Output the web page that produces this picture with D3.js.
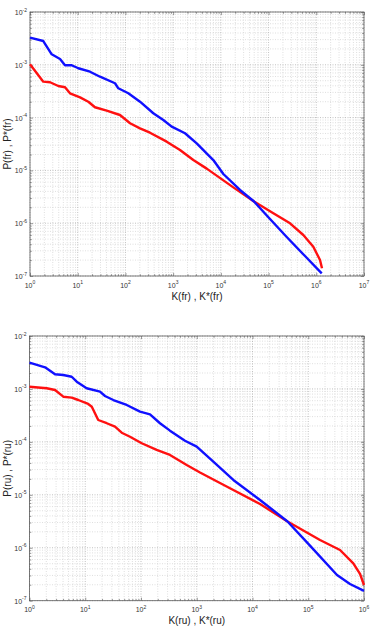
<!DOCTYPE html>
<html><head><meta charset="utf-8">
<script src="https://cdn.jsdelivr.net/npm/d3@7"></script>
<style>
html,body{margin:0;padding:0;background:#fff;}
svg{display:block;font-family:"Liberation Sans",Arial,sans-serif;}
</style></head>
<body>
<svg id="chart" width="373" height="631"></svg>
<script>
// ---- Data ----
// Top panel: French (fr)
const topBlueK = [1, 1.9, 2.85, 4.26, 5.42, 7.48, 10.3, 18.1, 29.3, 60.5, 71, 115, 202, 384, 622, 933, 1774, 3119, 6950, 11270, 25180, 49550, 107200, 239900, 580000, 1.30e6];
const topBlueP = [3.26e-3, 2.82e-3, 1.58e-3, 1.29e-3, 9.8e-4, 9.8e-4, 8.6e-4, 7.4e-4, 5.95e-4, 4.47e-4, 3.59e-4, 2.89e-4, 2.0e-4, 1.21e-4, 9.0e-5, 6.73e-5, 5.05e-5, 3.26e-5, 1.57e-5, 8.55e-6, 4.26e-6, 2.58e-6, 1.20e-6, 5.48e-7, 2.39e-7, 1.12e-7];
const topRedK = [1, 1.9, 2.63, 3.92, 5.42, 6.89, 11.2, 16.7, 23, 40.5, 76.9, 125, 202, 327, 733, 1393, 2648, 5058, 18240, 49550, 125900, 281800, 535000, 866000, 1.197e6, 1.318e6];
const topRedP = [1.02e-3, 4.79e-4, 4.67e-4, 3.97e-4, 3.75e-4, 2.88e-4, 2.42e-4, 2.0e-4, 1.57e-4, 1.35e-4, 1.12e-4, 7.8e-5, 6.27e-5, 5.18e-5, 3.5e-5, 2.43e-5, 1.57e-5, 1.08e-5, 4.77e-6, 2.58e-6, 1.54e-6, 9.95e-7, 5.98e-7, 3.59e-7, 2.01e-7, 1.40e-7];
// Bottom panel: Russian (ru)
const botBlueK = [1, 1.9, 2.87, 4.04, 5.71, 7.03, 10.6, 18.4, 22.6, 31.9, 55.4, 96, 145, 219, 331, 615, 998, 1982, 4530, 13640, 42460, 107400, 328000, 561000, 1e6];
const botBlueP = [3.13e-3, 2.56e-3, 1.89e-3, 1.83e-3, 1.70e-3, 1.37e-3, 1.03e-3, 8.87e-4, 7.36e-4, 6.18e-4, 4.98e-4, 3.72e-4, 3.32e-4, 2.25e-4, 1.63e-4, 1.05e-4, 8.12e-5, 4.23e-5, 1.91e-5, 8.0e-6, 3.14e-6, 1.10e-6, 3.06e-7, 2.07e-7, 1.53e-7];
const botRedK = [1, 2.04, 2.87, 4.04, 5.71, 7.5, 11.3, 13.1, 17.1, 24.3, 34.2, 45.1, 63.5, 103, 191, 331, 660, 1143, 3945, 13640, 42460, 162500, 371500, 643000, 848000, 1e6];
const botRedP = [1.10e-3, 1.03e-3, 9.55e-4, 7.14e-4, 6.84e-4, 6.18e-4, 5.2e-4, 4.62e-4, 2.59e-4, 2.25e-4, 1.94e-4, 1.49e-4, 1.25e-4, 9.41e-5, 7.04e-5, 5.66e-5, 3.66e-5, 2.64e-5, 1.33e-5, 6.71e-6, 3.14e-6, 1.40e-6, 9.08e-7, 5.09e-7, 3.2e-7, 1.98e-7];

// Tick labels (exponents of 10)
const topXExps = [0, 1, 2, 3, 4, 5, 6, 7];
const botXExps = [0, 1, 2, 3, 4, 5, 6];
const yExps = [-7, -6, -5, -4, -3, -2];

const labels = {
  topX: "K(fr) , K*(fr)", topY: "P(fr) , P*(fr)",
  botX: "K(ru) , K*(ru)", botY: "P(ru) , P*(ru)"
};

const svg = d3.select("#chart");

function minorValues(lo, hi) {
  const out = [];
  for (let e = lo; e < hi; e++) for (let m = 2; m <= 9; m++) out.push(m * Math.pow(10, e));
  return out;
}

function drawPanel(p) {
  const x = d3.scaleLog().domain([1, Math.pow(10, p.xExps[p.xExps.length - 1])]).range([p.left, p.right]);
  const y = d3.scaleLog().domain([1e-7, 1e-2]).range([p.bottom, p.top]);
  const g = svg.append("g");
  const xMaj = p.xExps.map(e => Math.pow(10, e));
  const yMaj = yExps.map(e => Math.pow(10, e));
  const xMin = minorValues(p.xExps[0], p.xExps[p.xExps.length - 1]);
  const yMin = minorValues(-7, -2);

  // minor grid
  g.append("g").selectAll("line").data(xMin).join("line")
    .attr("x1", d => x(d)).attr("x2", d => x(d)).attr("y1", p.top).attr("y2", p.bottom)
    .attr("stroke", "#c9c9c9").attr("stroke-width", 0.6).attr("stroke-dasharray", "1,1.5");
  g.append("g").selectAll("line").data(yMin).join("line")
    .attr("y1", d => y(d)).attr("y2", d => y(d)).attr("x1", p.left).attr("x2", p.right)
    .attr("stroke", "#c9c9c9").attr("stroke-width", 0.6).attr("stroke-dasharray", "1,1.5");
  // major grid
  g.append("g").selectAll("line").data(xMaj).join("line")
    .attr("x1", d => x(d)).attr("x2", d => x(d)).attr("y1", p.top).attr("y2", p.bottom)
    .attr("stroke", "#a8a8a8").attr("stroke-width", 0.7).attr("stroke-dasharray", "1,1.5");
  g.append("g").selectAll("line").data(yMaj).join("line")
    .attr("y1", d => y(d)).attr("y2", d => y(d)).attr("x1", p.left).attr("x2", p.right)
    .attr("stroke", "#a8a8a8").attr("stroke-width", 0.7).attr("stroke-dasharray", "1,1.5");

  // axes with inward ticks
  const axStyle = sel => { sel.select(".domain").remove(); sel.selectAll("line").attr("stroke", "#555").attr("stroke-width", 0.6); sel.selectAll("text").remove(); };
  g.append("g").attr("transform", `translate(0,${p.bottom})`)
    .call(d3.axisBottom(x).tickValues(xMaj).tickSize(-3).tickFormat("")).call(axStyle);
  g.append("g").attr("transform", `translate(0,${p.bottom})`)
    .call(d3.axisBottom(x).tickValues(xMin).tickSize(-1.8).tickFormat("")).call(axStyle);
  g.append("g").attr("transform", `translate(0,${p.top})`)
    .call(d3.axisTop(x).tickValues(xMaj).tickSize(-3).tickFormat("")).call(axStyle);
  g.append("g").attr("transform", `translate(0,${p.top})`)
    .call(d3.axisTop(x).tickValues(xMin).tickSize(-1.8).tickFormat("")).call(axStyle);
  g.append("g").attr("transform", `translate(${p.left},0)`)
    .call(d3.axisLeft(y).tickValues(yMaj).tickSize(-3).tickFormat("")).call(axStyle);
  g.append("g").attr("transform", `translate(${p.left},0)`)
    .call(d3.axisLeft(y).tickValues(yMin).tickSize(-1.8).tickFormat("")).call(axStyle);
  g.append("g").attr("transform", `translate(${p.right},0)`)
    .call(d3.axisRight(y).tickValues(yMaj).tickSize(-3).tickFormat("")).call(axStyle);
  g.append("g").attr("transform", `translate(${p.right},0)`)
    .call(d3.axisRight(y).tickValues(yMin).tickSize(-1.8).tickFormat("")).call(axStyle);

  // box
  g.append("rect").attr("x", p.left).attr("y", p.top).attr("width", p.right - p.left).attr("height", p.bottom - p.top)
    .attr("fill", "none").attr("stroke", "#5a5a5a").attr("stroke-width", 0.8);

  // x tick labels
  const xl = g.append("g").selectAll("text").data(p.xExps).join("text")
    .attr("x", e => x(Math.pow(10, e))).attr("y", p.bottom + 11.5)
    .attr("text-anchor", "middle").attr("fill", "#333").attr("font-size", 7);
  xl.append("tspan").text("10");
  xl.append("tspan").attr("font-size", 5).attr("dy", -3.5).text(e => e);
  // y tick labels
  const yl = g.append("g").selectAll("text").data(yExps).join("text")
    .attr("x", p.left - 3).attr("y", e => y(Math.pow(10, e)) + 3)
    .attr("text-anchor", "end").attr("fill", "#333").attr("font-size", 7);
  yl.append("tspan").text("10");
  yl.append("tspan").attr("font-size", 5).attr("dy", -3.5).text(e => e);

  // series
  const line = d3.line().x(d => x(d[0])).y(d => y(d[1]));
  g.append("path").datum(p.redK.map((k, i) => [k, p.redP[i]])).attr("d", line)
    .attr("fill", "none").attr("stroke", "#ff1010").attr("stroke-width", 2.4).attr("stroke-linejoin", "round");
  g.append("path").datum(p.blueK.map((k, i) => [k, p.blueP[i]])).attr("d", line)
    .attr("fill", "none").attr("stroke", "#1010ff").attr("stroke-width", 2.4).attr("stroke-linejoin", "round");

  // axis titles
  g.append("text").attr("x", (p.left + p.right) / 2).attr("y", p.bottom + 23.5)
    .attr("text-anchor", "middle").attr("font-size", 10).attr("fill", "#222").text(p.xLabel);
  g.append("text").attr("transform", `translate(10.5,${(p.top + p.bottom) / 2}) rotate(-90)`)
    .attr("text-anchor", "middle").attr("font-size", 10).attr("fill", "#222").text(p.yLabel);
}

drawPanel({ left: 30, right: 364, top: 12, bottom: 276, xExps: topXExps,
  blueK: topBlueK, blueP: topBlueP, redK: topRedK, redP: topRedP, xLabel: labels.topX, yLabel: labels.topY });
drawPanel({ left: 29.5, right: 364, top: 336, bottom: 600.7, xExps: botXExps,
  blueK: botBlueK, blueP: botBlueP, redK: botRedK, redP: botRedP, xLabel: labels.botX, yLabel: labels.botY });
</script>
</body></html>
